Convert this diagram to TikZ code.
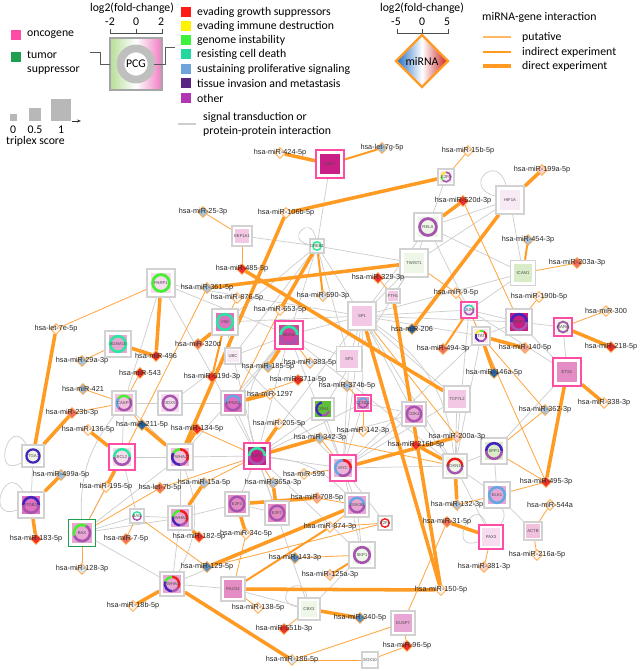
\documentclass[tikz,border=0pt]{standalone}
\usepackage{fontspec}
\newfontfamily\legf{Carlito}
\newfontfamily\netf{Liberation Sans}
\usetikzlibrary{shapes.geometric,arrows.meta}
\pgfdeclarelayer{paper}
\pgfdeclarelayer{edges}
\pgfsetlayers{paper,edges,main}

% colours
\definecolor{mirorange}{HTML}{FF9B22}
\definecolor{putorange}{HTML}{FFA640}
\definecolor{ppigray}{HTML}{CDCDCD}
\definecolor{framegray}{HTML}{D2D2D2}
\definecolor{oncpink}{HTML}{FF4DA6}
\definecolor{tsggreen}{HTML}{1E9E50}
\definecolor{hmgrowth}{HTML}{FF1A1A}
\definecolor{hmimmune}{HTML}{FFF200}
\definecolor{hmgenome}{HTML}{3CF23C}
\definecolor{hmdeath}{HTML}{22D8A0}
\definecolor{hmprolif}{HTML}{6FA3DA}
\definecolor{hminvade}{HTML}{5A2483}
\definecolor{hmother}{HTML}{B236B2}
\definecolor{rggrowth}{HTML}{F01E1E}
\definecolor{rgimmune}{HTML}{F5E51A}
\definecolor{rggenome}{HTML}{48EE30}
\definecolor{rgdeath}{HTML}{2EE6A0}
\definecolor{rgprolif}{HTML}{62A8E2}
\definecolor{rginvade}{HTML}{4524BE}
\definecolor{rgother}{HTML}{A654AE}
\definecolor{mred}{HTML}{F0302A}
\definecolor{msal}{HTML}{F0705E}
\definecolor{mlsal}{HTML}{F7A793}
\definecolor{mpale}{HTML}{FFF4EC}
\definecolor{mpink}{HTML}{FAD2C8}
\definecolor{mlblue}{HTML}{A8C3DB}
\definecolor{mblue}{HTML}{5B8FC2}
\definecolor{mdblue}{HTML}{2A67A3}
\definecolor{mvlblue}{HTML}{DCE7F0}
\definecolor{gdark}{HTML}{C81E85}
\definecolor{gmag}{HTML}{D2449E}
\definecolor{gvim}{HTML}{E070C0}
\definecolor{gmid}{HTML}{E48CC4}
\definecolor{glt}{HTML}{E8A6D4}
\definecolor{glt2}{HTML}{F0C0DC}
\definecolor{gpale}{HTML}{F3C8E4}
\definecolor{gpal2}{HTML}{F6DCEE}
\definecolor{gvpale}{HTML}{F8EAF4}
\definecolor{ggrn}{HTML}{EEF6E8}
\definecolor{ggrn2}{HTML}{D8ECC8}
\definecolor{gcdh}{HTML}{5FBF3A}
\definecolor{gwhite}{HTML}{FBFBFB}
\definecolor{gmyc}{HTML}{EEB4D8}
\definecolor{pcggreen}{HTML}{B6DE98}
\definecolor{pcgpink}{HTML}{EE7CC0}
\definecolor{lowblue}{HTML}{1F6CC4}
\definecolor{highred}{HTML}{C8201E}

% gene box: name, position, size, fill, frame, text, ring
\newcommand{\gene}[7]{%
  \pgfmathsetmacro{\gr}{#3*0.255}%
  \pgfmathsetmacro{\gw}{#3*0.085}%
  \node[gbox, draw=#5, minimum size=#3*0.85pt] (#1) at (#2) {};
  \node[gin, fill=#4, minimum size=#3*0.62pt] (#1i) at (#2) {};
  #7%
  \node[glab] (#1t) at (#2) {#6};
}
% ring piece of a gene box
\newcommand{\rarc}[4]{%
  \draw[#4, line width=\gw pt] (#1.center) ++(#2:\gr pt) arc[start angle=#2, end angle=#3, radius=\gr pt];
}
% miRNA diamond
\newcommand{\mir}[4]{%
  \node[mirn, fill=#3] (#1) at (#2) {};
  \node[mlab] (#1t) at (#2) {#4};
}

\begin{document}
\begin{tikzpicture}[x=0.85pt, y=-0.85pt,
  gbox/.style={rectangle, draw=framegray, line width=1.3pt, fill=white, inner sep=0pt},
  gin/.style={rectangle, inner sep=0pt},
  glab/.style={font=\netf\fontsize{3.6}{4}\selectfont, text=black!70, inner sep=0pt},
  mirn/.style={diamond, draw=putorange, line width=0.6pt, inner sep=0pt, minimum size=9.5pt},
  mlab/.style={font=\netf\fontsize{6.2}{7}\selectfont, text=black!85, inner sep=0pt},
  put/.style={draw=putorange, line width=0.7pt},
  ind/.style={draw=mirorange, line width=1.7pt},
  dir/.style={draw=mirorange, line width=3pt},
  ppi/.style={draw=ppigray, line width=0.6pt},
  leg/.style={font=\legf\fontsize{10}{12}\selectfont, inner sep=0pt, anchor=west, align=left},
  legc/.style={font=\legf\fontsize{10}{12}\selectfont, inner sep=0pt},
  hmbox/.style={rectangle, inner sep=0pt, minimum size=8.5pt}]

\begin{pgfonlayer}{paper}
\fill[white] (0,0) rectangle (642,671);
\end{pgfonlayer}
\useasboundingbox (0,0) rectangle (642,671);

% ---- legend: gene role
\node[hmbox, fill=oncpink] (onc) at (15.5,35) {};
\node[leg] (onct) at (27,35) {oncogene};
\node[hmbox, fill=tsggreen] (tsg) at (15.5,57) {};
\node[leg] (tsgt) at (27,63) {tumor\\suppressor};

% ---- legend: triplex score
\fill[black!28] (10,114) rectangle (17,121);
\fill[black!28] (29,108) rectangle (41,121);
\fill[black!28] (51,99) rectangle (71,121);
\draw[black!80, line width=0.5pt, -{Stealth[length=3.5pt]}] (72,121) -- (81,121);
\node[legc] (t0) at (13,130) {0};
\node[legc] (t05) at (35,130) {0.5};
\node[legc] (t1) at (61,130) {1};
\node[leg] (tsc) at (6,141) {triplex score};

% ---- legend: PCG
\node[legc] (pcgfc) at (132,8) {log2(fold-change)};
\node[legc] (pcgm) at (110,22) {-2};
\node[legc] (pcgz) at (136,22) {0};
\node[legc] (pcgp) at (161,22) {2};
\draw[black!70, line width=0.6pt] (110,29) -- (110,33) -- (162,33) -- (162,29) (136,33) -- (136,29);
\shade[left color=pcggreen, right color=pcgpink, middle color=white] (110,38) rectangle (162,90);
\draw[black!35, line width=1.8pt] (110,38) rectangle (162,90);
\draw[black!25, line width=6.6pt, fill=white] (136,64) circle[radius=13.2pt];
\node[legc] (pcg) at (136,64) {PCG};
\draw[black!65, line width=0.8pt] (90,52) -- (100,52) -- (100,64) -- (110,64);
\draw[black!65, line width=0.8pt] (154,64) -- (165,64) -- (165,47) -- (175,47);

% ---- legend: hallmarks
\foreach \c/\t/\y [count=\i] in {hmgrowth/evading growth suppressors/12,
    hmimmune/evading immune destruction/26, hmgenome/genome instability/40,
    hmdeath/resisting cell death/54, hmprolif/sustaining proliferative signaling/69,
    hminvade/tissue invasion and metastasis/83, hmother/other/98}{
  \node[hmbox, fill=\c] (hm\i) at (186,\y) {};
  \node[leg] (hm\i t) at (197,\y) {\t};
}
\draw[ppigray, line width=1.2pt] (178,124) -- (196,124);
\node[leg] (ppit) at (203,124) {signal transduction or\\protein-protein interaction};

% ---- legend: miRNA
\node[legc] (mirfc) at (422,8) {log2(fold-change)};
\node[legc] (mirm) at (396,22) {-5};
\node[legc] (mirz) at (422,22) {0};
\node[legc] (mirp) at (447,22) {5};
\draw[black!70, line width=0.6pt] (397,29) -- (397,33) -- (448,33) -- (448,29) (422,33) -- (422,29);
\path[left color=lowblue, right color=highred, middle color=white, draw=mirorange, line width=2pt]
  (396,61) -- (422,35) -- (448,61) -- (422,87) -- cycle;
\node[legc] (mirna) at (422,61) {miRNA};
\node[leg] (mgi) at (482,17) {miRNA-gene interaction};
\draw[putorange!80, line width=0.9pt] (483,37) -- (511,37);
\draw[mirorange, line width=2.2pt] (483,52) -- (511,52);
\draw[mirorange, line width=3.6pt] (483,66) -- (511,66);
\node[leg] (mgip) at (522,37) {putative};
\node[leg] (mgii) at (522,52) {indirect experiment};
\node[leg] (mgid) at (522,66) {direct experiment};

% ---- genes
\gene{YAP1}{330,164}{28}{gdark}{oncpink}{YAP1}{}
\gene{E2F6}{446,177}{16}{gvpale}{framegray}{E2F6}{\rarc{E2F6}{90}{180}{rgimmune}\rarc{E2F6}{180}{230}{rggenome}\rarc{E2F6}{230}{450}{rgother}}
\gene{HIF1A}{510,200}{28}{gvpale}{framegray}{HIF1A}{}
\gene{RELA}{428,227}{28}{ggrn}{framegray}{RELA}{\rarc{RELA}{0}{360}{rgother}}
\gene{EEF1A1}{242,236}{20}{gpale}{framegray}{EEF1A1}{}
\gene{CREB1}{317,246}{14}{ggrn}{framegray}{CREB1}{\rarc{CREB1}{0}{360}{rgdeath}}
\gene{TWIST1}{414,263}{28}{ggrn}{framegray}{TWIST1}{}
\gene{ICAM1}{523,273}{25}{ggrn2}{framegray}{ICAM1}{}
\gene{FTH1}{393,296}{14}{gpale}{framegray}{FTH1}{}
\gene{SP1}{362,316}{28}{gpale}{framegray}{SP1}{}
\gene{PARP1}{161,283}{28}{gpal2}{framegray}{PARP1}{\rarc{PARP1}{0}{360}{rggenome}}
\gene{VIM}{225,322}{26}{gvim}{framegray}{VIM}{\rarc{VIM}{0}{360}{rgdeath}}
\gene{MDM2}{289,335}{28}{gmag}{oncpink}{MDM2}{\rarc{MDM2}{0}{180}{rgdeath}\rarc{MDM2}{180}{360}{rgother}}
\gene{SP3}{349,359}{25}{gpale}{framegray}{SP3}{}
\gene{UBC}{233,356}{16}{gvpale}{framegray}{UBC}{}
\gene{JUN}{469,310}{16}{gvpale}{oncpink}{JUN}{\rarc{JUN}{20}{100}{rgdeath}\rarc{JUN}{100}{200}{rgprolif}\rarc{JUN}{200}{380}{rgother}}
\gene{MMP1}{519,322}{26}{gdark}{framegray}{MMP1}{\rarc{MMP1}{0}{180}{rginvade}\rarc{MMP1}{180}{360}{rgother}}
\gene{STAT1}{481,336}{18}{gvpale}{framegray}{STAT1}{\rarc{STAT1}{-20}{60}{rggrowth}\rarc{STAT1}{60}{100}{rggenome}\rarc{STAT1}{100}{160}{rgimmune}\rarc{STAT1}{160}{250}{rginvade}\rarc{STAT1}{250}{340}{rgother}}
\gene{RARA}{563,327}{18}{ggrn}{oncpink}{RARA}{\rarc{RARA}{0}{360}{rgother}}
\gene{ETS1}{567,372}{28}{gmid}{oncpink}{ETS1}{}
\gene{ADAM10}{118,344}{26}{glt}{framegray}{ADAM10}{\rarc{ADAM10}{0}{360}{rgdeath}}
\gene{CASP3}{124,403}{24}{glt2}{framegray}{CASP3}{\rarc{CASP3}{40}{140}{rggenome}\rarc{CASP3}{140}{220}{rgprolif}\rarc{CASP3}{220}{400}{rgother}}
\gene{DDX5}{170,403}{24}{gpal2}{framegray}{DDX5}{\rarc{DDX5}{0}{360}{rgother}}
\gene{KPNA2}{233,403}{24}{gvim}{framegray}{KPNA2}{\rarc{KPNA2}{0}{180}{rgprolif}\rarc{KPNA2}{180}{360}{rgother}}
\gene{CDH1}{323,409}{22}{gcdh}{framegray}{CDH1}{\rarc{CDH1}{100}{260}{rginvade}\rarc{CDH1}{260}{340}{rgother}}
\gene{CCND1}{363,403}{16}{gmid}{oncpink}{CCND1}{\rarc{CCND1}{0}{180}{rgprolif}\rarc{CCND1}{180}{360}{rgother}}
\gene{CDK4}{414,414}{24}{glt}{framegray}{CDK4}{\rarc{CDK4}{0}{360}{rgother}}
\gene{TCF7L2}{457,399}{26}{gpale}{framegray}{TCF7L2}{}
\gene{E2F1}{257,456}{26}{gdark}{oncpink}{E2F1}{\rarc{E2F1}{0}{180}{rgdeath}\rarc{E2F1}{180}{360}{rgother}}
\gene{MYC}{343,468}{26}{gmyc}{oncpink}{MYC}{\rarc{MYC}{0}{90}{rggrowth}\rarc{MYC}{90}{240}{rgprolif}\rarc{MYC}{240}{360}{rgother}}
\gene{SPP1}{494,451}{26}{ggrn2}{framegray}{SPP1}{\rarc{SPP1}{0}{180}{rginvade}\rarc{SPP1}{180}{360}{rgother}}
\gene{CDKN1A}{455,466}{24}{ggrn}{framegray}{CDKN1A}{\rarc{CDKN1A}{0}{180}{rggrowth}\rarc{CDKN1A}{180}{360}{rgother}}
\gene{ELK1}{497,495}{26}{glt}{framegray}{ELK1}{\rarc{ELK1}{0}{360}{rgprolif}}
\gene{ITGA1}{33,456}{22}{ggrn}{framegray}{ITGA1}{\rarc{ITGA1}{0}{360}{rginvade}}
\gene{BCL2}{122,457}{26}{gpal2}{oncpink}{BCL2}{\rarc{BCL2}{0}{180}{rgdeath}\rarc{BCL2}{180}{360}{rgother}}
\gene{YWHAZ}{180,457}{26}{glt2}{framegray}{YWHAZ}{\rarc{YWHAZ}{-30}{90}{rggrowth}\rarc{YWHAZ}{90}{150}{rggenome}\rarc{YWHAZ}{150}{270}{rginvade}\rarc{YWHAZ}{270}{330}{rgother}}
\gene{ITGB1}{31,505}{26}{gvim}{framegray}{ITGB1}{\rarc{ITGB1}{0}{180}{rginvade}\rarc{ITGB1}{180}{360}{rgother}}
\gene{E2F3}{237,504}{24}{gmid}{framegray}{E2F3}{\rarc{E2F3}{0}{360}{rgother}}
\gene{E2F2}{277,513}{24}{gmid}{framegray}{E2F2}{\rarc{E2F2}{0}{360}{rgother}}
\gene{GSK3B}{357,505}{24}{glt}{framegray}{GSK3B}{\rarc{GSK3B}{0}{180}{rgprolif}\rarc{GSK3B}{180}{360}{rgother}}
\gene{YWHAQ}{180,518}{24}{glt}{framegray}{YWHAQ}{\rarc{YWHAQ}{-30}{90}{rggrowth}\rarc{YWHAQ}{90}{170}{rggenome}\rarc{YWHAQ}{170}{270}{rginvade}\rarc{YWHAQ}{270}{330}{rgother}}
\gene{BAG}{137,516}{14}{gwhite}{framegray}{BAG}{\rarc{BAG}{0}{180}{rgdeath}\rarc{BAG}{180}{360}{rgother}}
\gene{E2F4}{385,523}{14}{gwhite}{framegray}{E2F4}{\rarc{E2F4}{0}{360}{rggrowth}}
\gene{BAX}{82,533}{27}{glt}{tsggreen}{BAX}{\rarc{BAX}{60}{200}{rggenome}\rarc{BAX}{200}{420}{rgother}}
\gene{YWHAG}{172,584}{24}{glt}{framegray}{YWHAG}{\rarc{YWHAG}{-30}{90}{rggrowth}\rarc{YWHAG}{90}{160}{rggenome}\rarc{YWHAG}{160}{270}{rginvade}\rarc{YWHAG}{270}{330}{rgother}}
\gene{SKP1}{362,555}{26}{ggrn}{framegray}{SKP1}{\rarc{SKP1}{0}{360}{rgother}}
\gene{PA2G4}{233,589}{24}{gmid}{framegray}{PA2G4}{}
\gene{CBX3}{309,609}{22}{ggrn}{framegray}{CBX3}{}
\gene{DUSP7}{403,623}{24}{glt}{framegray}{DUSP7}{}
\gene{SOX10}{370,660}{16}{gwhite}{framegray}{SOX10}{}
\gene{PAX3}{491,537}{24}{gpal2}{oncpink}{PAX3}{}
\gene{ACTB}{533,531}{18}{glt2}{framegray}{ACTB}{}

% ---- miRNAs
\mir{m424}{280,153}{mpale}{hsa-miR-424-5p}
\mir{let7g}{382,148}{mlblue}{hsa-let-7g-5p}
\mir{m15b}{468,151}{mpale}{hsa-miR-15b-5p}
\mir{m199a}{542,170}{mpink}{hsa-miR-199a-5p}
\mir{m106b}{286,213}{mpale}{hsa-miR-106b-5p}
\mir{m520d}{463,201}{mred}{hsa-miR-520d-3p}
\mir{m25}{203,212}{mlblue}{hsa-miR-25-3p}
\mir{m454}{528,240}{mlblue}{hsa-miR-454-3p}
\mir{m203a}{577,263}{msal}{hsa-miR-203a-3p}
\mir{m190b}{539,297}{mpale}{hsa-miR-190b-5p}
\mir{m9}{456,293}{mpale}{hsa-miR-9-5p}
\mir{m300}{606,311}{mpale}{hsa-miR-300}
\mir{m218}{611,347}{mred}{hsa-miR-218-5p}
\mir{m140}{525,348}{mlsal}{hsa-miR-140-5p}
\mir{m494}{443,349}{msal}{hsa-miR-494-3p}
\mir{m146a}{494,373}{mdblue}{hsa-miR-146a-5p}
\mir{m206}{412,329}{mdblue}{hsa-miR-206}
\mir{m485}{242,269}{mred}{hsa-miR-485-5p}
\mir{m329}{378,278}{mred}{hsa-miR-329-3p}
\mir{m590}{323,296}{mvlblue}{hsa-miR-590-3p}
\mir{m653}{280,310}{mpale}{hsa-miR-653-5p}
\mir{m876}{237,298}{mpale}{hsa-miR-876-5p}
\mir{m361}{207,288}{mlblue}{hsa-miR-361-5p}
\mir{m320d}{198,344}{msal}{hsa-miR-320d}
\mir{m519d}{212,377}{mred}{hsa-miR-519d-3p}
\mir{m543}{140,373}{mred}{hsa-miR-543}
\mir{m496}{156,356}{mred}{hsa-miR-496}
\mir{m29a}{82,361}{mlblue}{hsa-miR-29a-3p}
\mir{let7e}{56,329}{mpale}{hsa-let-7e-5p}
\mir{m185}{268,367}{mlblue}{hsa-miR-185-5p}
\mir{m383}{310,363}{mvlblue}{hsa-miR-383-5p}
\mir{m371a}{298,380}{mred}{hsa-miR-371a-5p}
\mir{m374b}{347,386}{mlblue}{hsa-miR-374b-5p}
\mir{m1297}{270,394}{mpale}{hsa-miR-1297}
\mir{m205}{279,424}{mpale}{hsa-miR-205-5p}
\mir{m342}{320,438}{mlblue}{hsa-miR-342-3p}
\mir{m142}{363,431}{mpale}{hsa-miR-142-3p}
\mir{m216b}{416,445}{mred}{hsa-miR-216b-5p}
\mir{m599}{304,474}{mpale}{hsa-miR-599}
\mir{m365a}{273,483}{mlblue}{hsa-miR-365a-3p}
\mir{m708}{317,498}{mlsal}{hsa-miR-708-5p}
\mir{m15a}{204,483}{mlblue}{hsa-miR-15a-5p}
\mir{let7b}{160,488}{msal}{hsa-let-7b-5p}
\mir{m195}{106,487}{mpale}{hsa-miR-195-5p}
\mir{m499a}{61,475}{mlblue}{hsa-miR-499a-5p}
\mir{m136}{88,430}{mpale}{hsa-miR-136-5p}
\mir{m211}{142,425}{mdblue}{hsa-miR-211-5p}
\mir{m134}{197,429}{mred}{hsa-miR-134-5p}
\mir{m23b}{72,413}{msal}{hsa-miR-23b-3p}
\mir{m421}{83,389}{mlblue}{hsa-miR-421}
\mir{m183}{36,539}{mred}{hsa-miR-183-5p}
\mir{m128}{82,569}{mvlblue}{hsa-miR-128-3p}
\mir{m7}{126,539}{msal}{hsa-miR-7-5p}
\mir{m182}{199,537}{mred}{hsa-miR-182-5p}
\mir{m129}{207,567}{mblue}{hsa-miR-129-5p}
\mir{m18b}{133,606}{mpale}{hsa-miR-18b-5p}
\mir{m34c}{246,534}{mpale}{hsa-miR-34c-5p}
\mir{m874}{330,527}{mpale}{hsa-miR-874-3p}
\mir{m143}{295,558}{mblue}{hsa-miR-143-3p}
\mir{m125a}{330,575}{mpink}{hsa-miR-125a-3p}
\mir{m138}{258,608}{mpale}{hsa-miR-138-5p}
\mir{m340}{360,618}{mblue}{hsa-miR-340-5p}
\mir{m551b}{284,629}{mred}{hsa-miR-551b-3p}
\mir{m186}{292,660}{mvlblue}{hsa-miR-186-5p}
\mir{m96}{407,646}{mred}{hsa-miR-96-5p}
\mir{m150}{441,590}{mpale}{hsa-miR-150-5p}
\mir{m381}{484,567}{mpink}{hsa-miR-381-3p}
\mir{m216a}{537,555}{mpale}{hsa-miR-216a-5p}
\mir{m31}{447,522}{msal}{hsa-miR-31-5p}
\mir{m132}{457,505}{mlblue}{hsa-miR-132-3p}
\mir{m544a}{550,505}{mpale}{hsa-miR-544a}
\mir{m495}{546,482}{mred}{hsa-miR-495-3p}
\mir{m362}{545,410}{mlblue}{hsa-miR-362-3p}
\mir{m338}{604,403}{mpale}{hsa-miR-338-3p}
\mir{m200a}{457,437}{mpink}{hsa-miR-200a-3p}

% ---- connectors, under the nodes
\begin{pgfonlayer}{edges}
\foreach \a/\b in {YAP1/CREB1, E2F6/RELA, RELA/HIF1A, RELA/TWIST1, RELA/ICAM1, RELA/SP1,
    RELA/JUN, HIF1A/ICAM1, HIF1A/TWIST1, CREB1/SP1, CREB1/MDM2, CREB1/EEF1A1, CREB1/VIM,
    CREB1/TWIST1, CREB1/SP3, CREB1/UBC, TWIST1/SP1, TWIST1/CDH1, TWIST1/FTH1, SP1/SP3,
    SP1/MDM2, SP1/JUN, SP1/MMP1, SP1/STAT1, SP1/CCND1, SP1/CDKN1A, SP1/TCF7L2, SP1/MYC,
    SP1/ICAM1, SP1/VIM, SP1/PARP1, SP1/E2F1, SP1/CDK4, PARP1/MDM2, PARP1/CASP3, PARP1/E2F1,
    MDM2/E2F1, MDM2/MYC, MDM2/UBC, MDM2/KPNA2, MDM2/CDKN1A, MDM2/YWHAZ, MDM2/SP3,
    UBC/E2F1, UBC/DDX5, UBC/MYC, UBC/VIM, JUN/MMP1, JUN/STAT1, JUN/ETS1, JUN/ICAM1,
    JUN/CDKN1A, MMP1/ETS1, MMP1/RARA, MMP1/STAT1, RARA/ETS1, STAT1/MYC, STAT1/CDKN1A,
    CASP3/DDX5, CASP3/BCL2, CASP3/YWHAZ, BCL2/YWHAZ, BCL2/BAX, BCL2/BAG, YWHAZ/E2F1,
    YWHAZ/YWHAQ, YWHAZ/BAX, ITGA1/ITGB1, E2F1/E2F2, E2F1/E2F3, E2F1/MYC, E2F1/CDK4,
    E2F1/CCND1, E2F1/KPNA2, E2F1/SKP1, MYC/CDK4, MYC/GSK3B, MYC/SKP1, MYC/CDKN1A, MYC/E2F4,
    MYC/CCND1, MYC/TCF7L2, CDKN1A/CDK4, CDKN1A/SPP1, CDKN1A/ELK1, CDKN1A/PAX3, ELK1/SPP1,
    ELK1/ACTB, GSK3B/SKP1, GSK3B/YWHAG, YWHAQ/YWHAG, YWHAQ/BAX, YWHAG/BAX, BAX/BAG,
    BAG/YWHAQ, PA2G4/CBX3, CBX3/E2F1, CBX3/SKP1, CDH1/E2F1, CDH1/MYC, KPNA2/DDX5, SP3/MYC,
    TCF7L2/CDKN1A, CCND1/CDK4, E2F2/E2F3, E2F3/YWHAQ, PA2G4/YWHAG, ETS1/SPP1}
  \draw[ppi] (\a) -- (\b);
\draw[ppi] (SP1) to[bend left=25] (CDKN1A);
\draw[ppi] (MDM2) to[bend right=30] (E2F1);
\draw[ppi] (CASP3) to[bend right=20] (BAX);
\draw[ppi] (YWHAZ) to[bend left=25] (YWHAG);
\draw[ppi] (E2F1) to[bend left=20] (GSK3B);
\draw[ppi] (PAX3) to[bend right=30] (ELK1);
\draw[ppi] (HIF1A) to[loop, out=105, in=165, min distance=30pt] (HIF1A);
\draw[ppi] (ITGA1) to[loop, out=120, in=210, min distance=30pt] (ITGA1);
\draw[ppi] (ITGB1) to[loop, out=120, in=200, min distance=30pt] (ITGB1);
\draw[ppi] (CBX3) to[loop, out=100, in=170, min distance=25pt] (CBX3);
\draw[ppi] (PAX3) to[loop, out=110, in=200, min distance=30pt] (PAX3);
\draw[ppi] (CREB1) to[loop, out=100, in=170, min distance=22pt] (CREB1);
\foreach \a/\b in {m15b/E2F6, m520d/MMP1, ICAM1/m203a, m25/EEF1A1, m485/EEF1A1, m361/BCL2,
    m329/FTH1, m876/VIM, m9/JUN, m9/TWIST1, m190b/MMP1, m300/RARA, let7e/PARP1, ADAM10/m29a,
    m543/CASP3, m421/CASP3, m23b/CASP3, m211/CASP3, m195/BAX, let7b/E2F1, let7b/BAX,
    m15a/E2F1, m128/BAX, m7/BAG, BAG/m129, m874/GSK3B, m874/E2F4, m129/E2F4, m143/SKP1,
    m138/PA2G4, m34c/PA2G4, m551b/CBX3, m186/SOX10, m186/DUSP7, SOX10/m96, m96/DUSP7,
    m31/DUSP7, m132/ELK1, m381/PAX3, m216a/ACTB, m544a/ACTB, m495/ELK1, m495/SPP1,
    m495/JUN, m362/SPP1, m362/STAT1, m200a/SP1, m216b/CDK4, m142/CCND1, m374b/CCND1,
    m342/MYC, m342/CDKN1A, m383/MDM2, m371a/KPNA2, m599/MYC, m365a/E2F1, m708/GSK3B,
    m134/E2F1, m653/KPNA2}
  \draw[put] (\a) -- (\b);
\foreach \a/\b in {YAP1/let7g, m454/ICAM1, CREB1/m590, JUN/m494, m125a/SKP1, m519d/VIM,
    m874/PA2G4}
  \draw[ind] (\a) -- (\b);
\foreach \a/\b in {m424/YAP1, E2F6/m106b, m106b/YWHAZ, m199a/HIF1A, m520d/RELA, HIF1A/m206,
    m485/TCF7L2, m361/TWIST1, CREB1/m653, let7e/ITGA1, PARP1/m496, ADAM10/m496, m320d/VIM,
    ITGA1/m23b, m136/BCL2, m211/YWHAZ, m134/YWHAZ, m499a/ITGB1, m195/BCL2, m15a/YWHAQ,
    m183/ITGB1, m182/YWHAQ, YWHAG/m186, m18b/YWHAG, m34c/E2F3, m129/GSK3B, PA2G4/m150,
    m340/CBX3, SP1/m150, FTH1/m150, m132/CDKN1A, m31/PAX3, m495/ETS1, m338/ETS1, MYC/m200a,
    CDKN1A/m216b, m342/E2F1, m205/E2F1, KPNA2/m1297, m185/MDM2, m365a/E2F2, m708/E2F3,
    RARA/m218, STAT1/m140, STAT1/m146a}
  \draw[dir] (\a) -- (\b);
\end{pgfonlayer}
\end{tikzpicture}
\end{document}
